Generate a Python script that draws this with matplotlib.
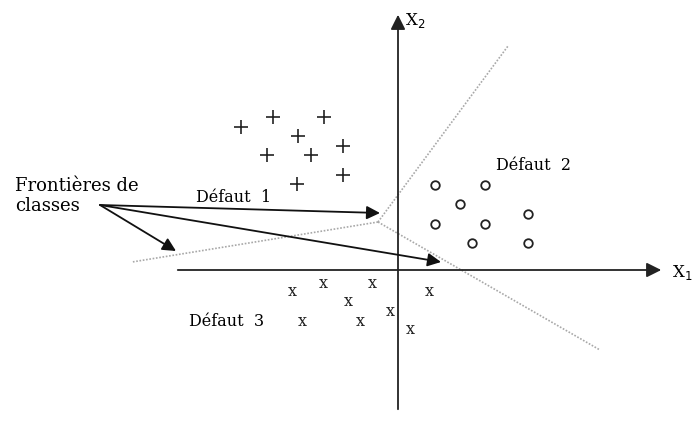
import matplotlib.pyplot as plt

# --- Data (pixel coordinates, y downwards) ---
plus_x = [241, 273, 324, 298, 343, 267, 311, 343, 297]
plus_y = [127, 117, 117, 136, 146, 155, 155, 175, 184]

circle_x = [435, 485, 460, 528, 435, 485, 472, 528]
circle_y = [185, 185, 204, 214, 224, 224, 243, 243]

cross_x = [292, 323, 372, 348, 429, 302, 360, 390, 410]
cross_y = [292, 283, 283, 302, 292, 321, 321, 312, 329]

# class boundaries meet at one junction point
junction = (378, 222)
boundary_ends = [(132, 262), (508, 46), (600, 350)]

# annotation arrows from the "Frontieres de classes" label
arrow_start = (100, 205)
arrow_ends = [(380, 213), (176, 251), (441, 262)]

labels = ["Défaut  1", "Défaut  2", "Défaut  3"]
label_pos = [(196, 197), (496, 166), (189, 322)]

W, H = 697, 432
fig = plt.figure(figsize=(W / 100, H / 100), dpi=100)
ax = fig.add_axes([0, 0, 1, 1])
ax.set_xlim(0, W)
ax.set_ylim(H, 0)
ax.axis('off')

serif = 'DejaVu Serif'

# boundaries
for ex, ey in boundary_ends:
    ax.plot([junction[0], ex], [junction[1], ey], color='#a8a8a8', lw=1.2, ls=(0, (1, 1)))

# axes with arrows
ax.annotate('', xy=(398, 12), xytext=(398, 412),
            arrowprops=dict(arrowstyle='-|>', color='#222222', lw=1.3, mutation_scale=22))
ax.annotate('', xy=(664, 270), xytext=(175, 270),
            arrowprops=dict(arrowstyle='-|>', color='#222222', lw=1.3, mutation_scale=22))
ax.text(405, 20, 'X$_2$', fontsize=12, family=serif, va='center', ha='left')
ax.text(672, 272, 'X$_1$', fontsize=12, family=serif, va='center', ha='left')

# points
ax.scatter(plus_x, plus_y, marker='+', s=110, color='#222222', linewidths=1.2)
ax.scatter(circle_x, circle_y, marker='o', s=38, facecolors='white', edgecolors='#222222', linewidths=1.3)
for x, y in zip(cross_x, cross_y):
    ax.text(x, y, 'x', fontsize=11.5, family=serif, ha='center', va='center', color='#222222')

# annotation arrows
for ex, ey in arrow_ends:
    ax.annotate('', xy=(ex, ey), xytext=arrow_start,
                arrowprops=dict(arrowstyle='-|>', color='#111111', lw=1.3, mutation_scale=20,
                                shrinkA=0, shrinkB=0))

ax.text(15, 186, 'Frontières de', fontsize=13, family=serif, va='center', ha='left')
ax.text(15, 206, 'classes', fontsize=13, family=serif, va='center', ha='left')

for txt, (x, y) in zip(labels, label_pos):
    ax.text(x, y, txt, fontsize=11.5, family=serif, va='center', ha='left')

fig.savefig('out.png', dpi=100)
